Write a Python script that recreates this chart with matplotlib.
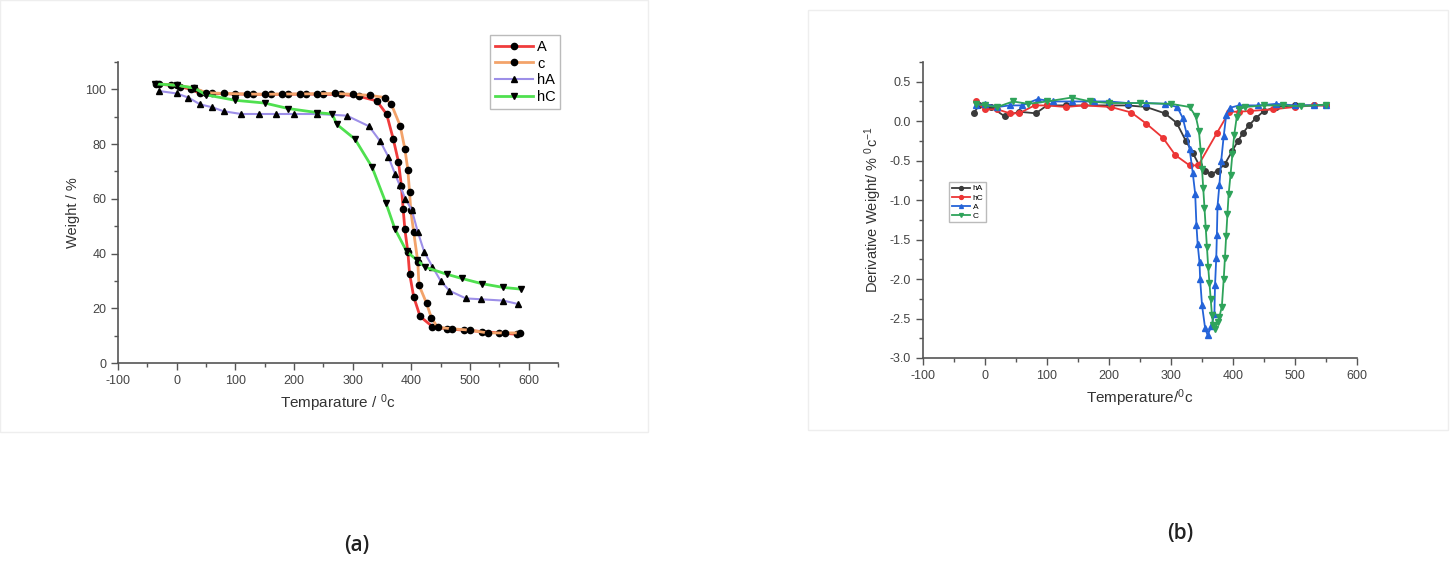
import matplotlib
matplotlib.use("Agg")
import matplotlib.pyplot as plt
from matplotlib.patches import Rectangle
from matplotlib.ticker import MultipleLocator

plt.rcParams["font.family"] = ["Liberation Sans", "DejaVu Sans"]
plt.rcParams["axes.unicode_minus"] = False
plt.rcParams["mathtext.fontset"] = "custom"
plt.rcParams["mathtext.rm"] = "Liberation Sans"
plt.rcParams["mathtext.it"] = "Liberation Sans"

# ---- (a) TGA curves ----
A_x = [-35, -10, 5, 25, 40, 60, 100, 130, 160, 190, 220, 250, 280, 310, 341, 358, 369, 378, 383, 386, 389, 394, 397, 404, 415, 436, 460, 490, 520, 550, 580]
A_y = [102, 101.5, 101, 100, 98.5, 98.5, 98.3, 98.2, 98.2, 98.2, 98.3, 98.2, 98.2, 97.5, 95.8, 90.9, 82, 73.6, 64.8, 56.4, 48.8, 40.7, 32.7, 24.2, 17, 13.3, 12.5, 12, 11.5, 11, 10.5]

c_x = [-30, 0, 30, 50, 80, 120, 150, 180, 210, 240, 270, 300, 330, 355, 366, 381, 389, 394, 397, 399, 404, 411, 413, 426, 434, 445, 470, 500, 530, 560, 585]
c_y = [102, 101.5, 100.5, 98.8, 98.5, 98.3, 98.2, 98.3, 98.3, 98.4, 98.5, 98.2, 97.8, 97, 94.5, 86.7, 78.2, 70.7, 62.4, 55.8, 47.9, 37, 28.5, 21.8, 16.6, 13, 12.5, 12, 11, 11, 11]

hA_x = [-30, 0, 20, 40, 60, 80, 110, 140, 170, 200, 240, 290, 328, 347, 361, 372, 380, 390, 401, 411, 422, 436, 450, 465, 493, 518, 557, 581]
hA_y = [99.4, 98.5, 97, 94.5, 93.5, 92, 91, 91, 91, 91, 91, 90.4, 86.5, 81, 75.3, 69.2, 65, 60, 55.8, 47.9, 40.6, 35.2, 30, 26.4, 23.6, 23.3, 22.8, 21.6]

hC_x = [-37, 0, 30, 50, 100, 150, 190, 240, 265, 273, 304, 333, 357, 372, 392, 410, 424, 461, 486, 520, 557, 587]
hC_y = [102, 101.5, 100.5, 98, 96, 95, 93, 91.5, 91, 87.2, 81.8, 71.6, 58.3, 49, 40.8, 37.5, 35, 32.4, 30.9, 29, 27.6, 27]

# ---- (b) DTG curves ----
dhA_x = [-18, -10, 10, 32, 55, 82, 100, 130, 160, 200, 230, 260, 290, 309, 324, 335, 345, 355, 365, 375, 387, 399, 408, 416, 426, 437, 450, 470, 500, 530, 550]
dhA_y = [0.1, 0.2, 0.18, 0.06, 0.12, 0.1, 0.2, 0.2, 0.2, 0.2, 0.2, 0.18, 0.1, -0.02, -0.25, -0.4, -0.55, -0.63, -0.67, -0.63, -0.54, -0.375, -0.25, -0.15, -0.05, 0.04, 0.13, 0.18, 0.2, 0.2, 0.2]

dhC_x = [-15, 0, 20, 40, 55, 80, 100, 130, 160, 203, 236, 260, 287, 307, 330, 344, 374, 394, 410, 428, 464, 500, 530, 550]
dhC_y = [0.25, 0.15, 0.15, 0.1, 0.1, 0.2, 0.2, 0.18, 0.2, 0.18, 0.11, -0.03, -0.21, -0.43, -0.56, -0.56, -0.15, 0.12, 0.12, 0.13, 0.15, 0.18, 0.2, 0.2]

dA_x = [-15, 0, 20, 40, 60, 85, 110, 140, 175, 200, 230, 260, 290, 310, 319, 325, 330, 335, 339, 341, 343, 346, 347, 350, 355, 359, 365, 370, 371, 373, 374, 375, 378, 381, 385, 389, 395, 410, 440, 470, 500, 530, 550]
dA_y = [0.2, 0.22, 0.18, 0.2, 0.2, 0.28, 0.25, 0.25, 0.25, 0.25, 0.23, 0.23, 0.22, 0.18, 0.04, -0.15, -0.35, -0.65, -0.92, -1.31, -1.56, -1.79, -2.0, -2.33, -2.62, -2.71, -2.6, -2.44, -2.08, -1.73, -1.44, -1.08, -0.81, -0.5, -0.19, 0.075, 0.17, 0.2, 0.2, 0.22, 0.2, 0.2, 0.21]

dC_x = [-15, 0, 20, 45, 70, 100, 140, 170, 200, 250, 300, 330, 340, 345, 348, 350, 352, 354, 356, 358, 360, 362, 364, 366, 368, 371, 375, 378, 382, 385, 387, 389, 391, 393, 396, 399, 402, 406, 410, 420, 450, 480, 510, 550]
dC_y = [0.22, 0.2, 0.18, 0.25, 0.22, 0.25, 0.3, 0.25, 0.23, 0.23, 0.22, 0.18, 0.06, -0.12, -0.38, -0.6, -0.85, -1.1, -1.35, -1.6, -1.85, -2.05, -2.25, -2.45, -2.58, -2.63, -2.55, -2.48, -2.35, -2.0, -1.73, -1.45, -1.18, -0.92, -0.68, -0.42, -0.17, 0.05, 0.15, 0.18, 0.2, 0.2, 0.19, 0.21]

W, H = 1453, 563
fig = plt.figure(figsize=(W / 100, H / 100), dpi=100)
fig.patch.set_facecolor("white")

# faint panel frames like the pasted figure
fig.patches.append(Rectangle((0.0, 1 - 432 / H), 648 / W, 432 / H, transform=fig.transFigure,
                             fill=False, edgecolor="#eeeeee", lw=1.0))
fig.patches.append(Rectangle((808 / W, 1 - 430 / H), 640 / W, 420 / H, transform=fig.transFigure,
                             fill=False, edgecolor="#eeeeee", lw=1.0))

tick_col = "#444444"


def style_axes(ax):
    for s in ["top", "right"]:
        ax.spines[s].set_visible(False)
    for s in ["left", "bottom"]:
        ax.spines[s].set_color("#555555")
        ax.spines[s].set_linewidth(1.2)
    ax.tick_params(which="major", direction="out", length=5, width=1, colors="#555555",
                   labelcolor=tick_col, labelsize=9)
    ax.tick_params(which="minor", direction="out", length=3, width=1, colors="#555555")


# ---------- (a) ----------
ax1 = fig.add_axes([118 / W, 1 - 363 / H, 440 / W, 301 / H])
ax1.plot(A_x, A_y, color="#f03c3c", lw=2, marker="o", ms=4.5, mfc="black", mec="black", label="A")
ax1.plot(c_x, c_y, color="#f3a36a", lw=2, marker="o", ms=4.5, mfc="black", mec="black", label="c")
ax1.plot(hA_x, hA_y, color="#9d8fe8", lw=1.5, marker="^", ms=5, mfc="black", mec="black", label="hA")
ax1.plot(hC_x, hC_y, color="#4fe04f", lw=2, marker="v", ms=5, mfc="black", mec="black", label="hC")
ax1.set_xlim(-100, 650)
ax1.set_ylim(0, 110)
ax1.xaxis.set_major_locator(MultipleLocator(100))
ax1.xaxis.set_minor_locator(MultipleLocator(50))
ax1.yaxis.set_major_locator(MultipleLocator(20))
ax1.yaxis.set_minor_locator(MultipleLocator(10))
style_axes(ax1)
ax1.set_xlabel("Temparature / $^0$c", fontsize=11, color="#333333")
ax1.set_ylabel("Weight / %", fontsize=10.5, color="#333333")
leg1 = ax1.legend(loc="upper left", bbox_to_anchor=(483 / W, 1 - 28 / H), bbox_transform=fig.transFigure,
                  fontsize=10.5, frameon=True, fancybox=False, handlelength=2.6, borderpad=0.3,
                  labelspacing=0.2, handletextpad=0.3)
leg1.get_frame().set_edgecolor("#aaaaaa")

# ---------- (b) ----------
ax2 = fig.add_axes([923 / W, 1 - 358 / H, 434 / W, 296 / H])
ax2.plot(dhA_x, dhA_y, color="#3a3a3a", lw=1.3, marker="o", ms=4, label="hA")
ax2.plot(dhC_x, dhC_y, color="#ec3535", lw=1.3, marker="o", ms=4, label="hC")
ax2.plot(dA_x, dA_y, color="#2463d8", lw=1.3, marker="^", ms=4, label="A")
ax2.plot(dC_x, dC_y, color="#2ea35a", lw=1.3, marker="v", ms=4, label="C")
ax2.set_xlim(-100, 600)
ax2.set_ylim(-3.0, 0.75)
ax2.xaxis.set_major_locator(MultipleLocator(100))
ax2.xaxis.set_minor_locator(MultipleLocator(50))
ax2.yaxis.set_major_locator(MultipleLocator(0.5))
ax2.yaxis.set_minor_locator(MultipleLocator(0.25))
style_axes(ax2)
ax2.set_xlabel("Temperature/$^0$c", fontsize=11, color="#333333")
ax2.set_ylabel("Derivative Weight/ % $^0$c$^{-1}$", fontsize=10.5, color="#333333")
leg2 = ax2.legend(loc="upper left", bbox_to_anchor=(945 / W, 1 - 178 / H), bbox_transform=fig.transFigure,
                  fontsize=6, frameon=True, fancybox=False, handlelength=2.2, borderpad=0.3,
                  labelspacing=0.15, handletextpad=0.3, markerscale=0.7)
leg2.get_frame().set_edgecolor("#aaaaaa")

fig.text(357 / W, 1 - 546 / H, "(a)", fontsize=15, fontweight="semibold", family="Open Sans",
         ha="center", va="center", color="#222222")
fig.text(1180 / W, 1 - 534 / H, "(b)", fontsize=15, fontweight="semibold", family="Open Sans",
         ha="center", va="center", color="#222222")

fig.savefig("out.png", dpi=100)
